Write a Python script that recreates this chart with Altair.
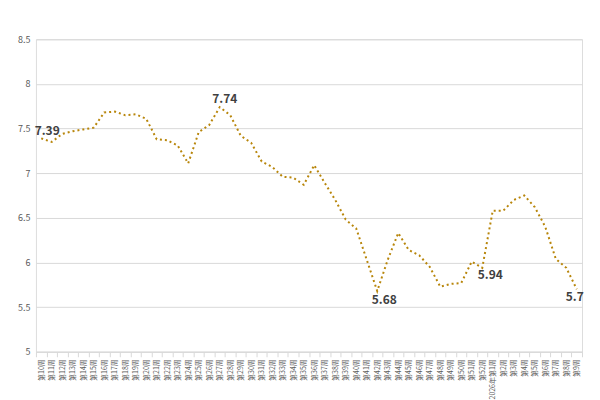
import altair as alt
import pandas as pd

weeks = [f"第{i}周" for i in range(10, 53)] + ["2026年第1周"] + [f"第{i}周" for i in range(2, 10)]
prices = [7.39, 7.35, 7.44, 7.47, 7.49, 7.51, 7.68, 7.69, 7.65, 7.66,
          7.61, 7.38, 7.37, 7.31, 7.11, 7.46, 7.54, 7.74, 7.65, 7.42,
          7.34, 7.13, 7.07, 6.96, 6.95, 6.87, 7.09, 6.89, 6.70, 6.48,
          6.38, 6.03, 5.68, 6.03, 6.33, 6.14, 6.08, 5.95, 5.73, 5.76,
          5.77, 6.01, 5.94, 6.58, 6.58, 6.70, 6.75, 6.62, 6.40, 6.04,
          5.94, 5.70]
label_idx = [0, 17, 32, 42, 51]
label_dx = [6, 5, 7, 8, -2]
label_dy = [-7, -8, 9, 7, 8]

df = pd.DataFrame({"week": weeks, "price": prices, "idx": list(range(len(weeks)))})
lab = df.iloc[label_idx].copy()
lab["text"] = [f"{v:g}" for v in lab["price"]]
lab["dx"] = label_dx
lab["dy"] = label_dy

FONT = "Noto Sans CJK SC"

x_enc = alt.X("week:O", sort=weeks, bandPosition=0.5,
              scale=alt.Scale(type="band", paddingInner=0, paddingOuter=0),
              axis=alt.Axis(title=None, labelAngle=-90, labelFontSize=7, labelColor="#595959",
                            labelFont=FONT, tickBand="extent", tickColor="#d9d9d9", tickSize=5,
                            domainColor="#d9d9d9", grid=False, labelPadding=2, labelLimit=200))
y_enc = alt.Y("price:Q", scale=alt.Scale(domain=[5, 8.5], nice=False, zero=False),
              axis=alt.Axis(title=None, values=[5, 5.5, 6, 6.5, 7, 7.5, 8, 8.5], format="~g",
                            labelFontSize=9, labelColor="#595959", labelFont=FONT,
                            ticks=False, domain=False, gridColor="#d9d9d9",
                            labelPadding=6))

line = alt.Chart(df).mark_line(color="#B8860B", strokeWidth=2, strokeDash=[2, 3]).encode(
    x=x_enc, y=y_enc)

texts = []
for _, r in lab.iterrows():
    t = alt.Chart(pd.DataFrame([r])).mark_text(
        fontSize=12, fontWeight="bold", color="#404040", font=FONT,
        dx=int(r["dx"]), dy=int(r["dy"]), baseline="middle", align="center"
    ).encode(x=alt.X("week:O", sort=weeks, bandPosition=0.5), y="price:Q", text="text:N")
    texts.append(t)

chart = alt.layer(line, *texts).properties(
    width=547, height=313,
    autosize=alt.AutoSizeParams(type="none"),
    padding={"left": 28, "top": 31, "right": 10, "bottom": 48},
).configure_view(stroke=None).configure(background="white")

chart.save("out.html", embed_options={"renderer": "svg", "actions": False})
